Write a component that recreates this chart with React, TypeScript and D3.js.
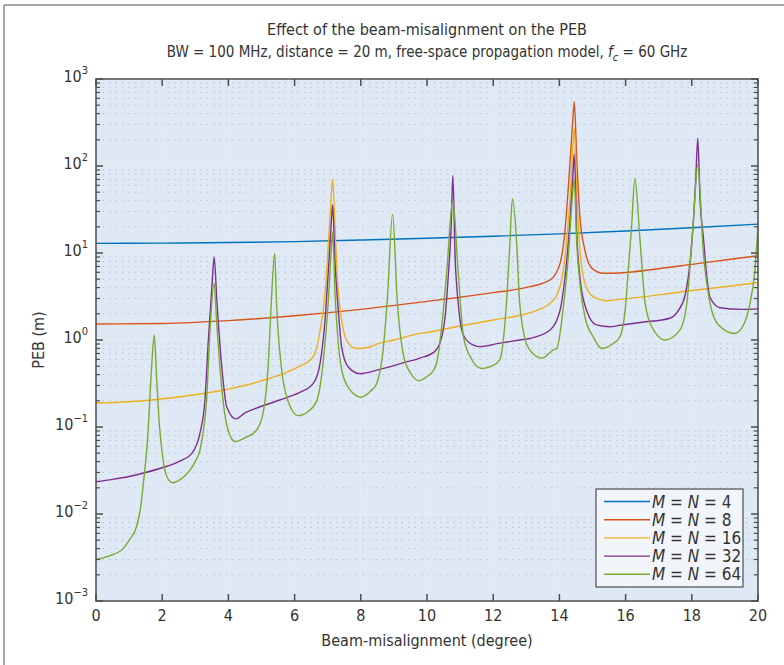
import { scaleLinear, scaleLog, line, curveMonotoneX } from "d3";

// x: beam-misalignment (degree), y: PEB (m)
const peb4: [number, number][] = [
  [0, 12.9], [2, 13.0], [4, 13.2], [6, 13.5], [8, 14.1], [10, 14.8],
  [12, 15.6], [14, 16.6], [16, 17.9], [18, 19.5], [20, 21.5],
];

const peb8: [number, number][] = [
  [0, 1.53], [2, 1.55], [4, 1.67], [6, 1.9], [8, 2.25], [10, 2.78], [11, 3.1],
  [12, 3.5], [13.11, 4.1], [13.72, 4.9], [14.02, 7.6], [14.17, 18.4], [14.3, 84],
  [14.4, 318], [14.45, 548], [14.52, 131], [14.62, 26], [14.77, 10.8], [14.98, 6.7],
  [15.33, 5.84], [15.83, 5.9], [17, 6.6], [18, 7.4], [19, 8.3], [20, 9.3],
];

const peb16: [number, number][] = [
  [0, 0.189], [1, 0.195], [1.96, 0.21], [3, 0.235], [3.95, 0.27], [4.5, 0.3],
  [5, 0.34], [5.5, 0.39], [5.96, 0.46], [6.16, 0.5], [6.47, 0.59], [6.6, 0.68],
  [6.79, 1.42], [6.92, 3.4], [7.02, 12.9], [7.1, 40.6], [7.15, 70], [7.22, 20],
  [7.29, 5.3], [7.42, 1.7], [7.62, 0.92], [7.88, 0.8], [8.2, 0.82], [8.58, 0.92],
  [9, 1.0], [9.79, 1.19], [10, 1.22], [11, 1.45], [12, 1.7], [13.11, 2.06],
  [13.72, 2.64], [14.02, 4.1], [14.22, 14], [14.34, 54], [14.42, 204], [14.45, 271],
  [14.52, 54], [14.62, 10.8], [14.77, 4.5], [15.02, 3.15], [15.43, 2.83], [15.83, 2.93],
  [17, 3.3], [18, 3.7], [19, 4.1], [20, 4.56],
];

const peb32: [number, number][] = [
  [0, 0.0235], [0.5, 0.025], [1, 0.027], [1.5, 0.03], [2, 0.034], [2.5, 0.04],
  [2.9, 0.05], [3.14, 0.085], [3.29, 0.2], [3.4, 1.08], [3.5, 4.0], [3.57, 9.0],
  [3.65, 2.9], [3.8, 0.49], [3.95, 0.17], [4.23, 0.124], [4.5, 0.145], [4.85, 0.165],
  [5.4, 0.195], [5.86, 0.225], [6.16, 0.25], [6.57, 0.32], [6.77, 0.54], [6.92, 1.7],
  [7.02, 6.3], [7.1, 20], [7.15, 36], [7.22, 7.8], [7.32, 2.2], [7.42, 0.84],
  [7.62, 0.49], [7.98, 0.41], [8.58, 0.46], [9.3, 0.55], [9.79, 0.62], [10.2, 0.72],
  [10.4, 0.95], [10.55, 1.9], [10.65, 6], [10.73, 20], [10.78, 78], [10.85, 9],
  [10.95, 2.5], [11.05, 1.3], [11.25, 0.95], [11.6, 0.84], [12.2, 0.92], [12.8, 1.0],
  [13.11, 1.04], [13.72, 1.3], [14.02, 2.2], [14.17, 5.3], [14.3, 18.4], [14.4, 69],
  [14.45, 137], [14.52, 18], [14.62, 5.3], [14.82, 2.2], [15.12, 1.49], [15.53, 1.42],
  [15.83, 1.48], [16.5, 1.6], [17.34, 1.78], [17.6, 2.2], [17.8, 3.3], [17.95, 8],
  [18.05, 24], [18.12, 70], [18.18, 209], [18.25, 40], [18.35, 15], [18.45, 5.5],
  [18.55, 3.1], [18.85, 2.35], [19.5, 2.25], [20, 2.28],
];

const peb64: [number, number][] = [
  [0, 0.003], [0.4, 0.0033], [0.82, 0.004], [1.0, 0.005], [1.22, 0.0071], [1.35, 0.012],
  [1.42, 0.0206], [1.5, 0.04], [1.57, 0.085], [1.68, 0.49], [1.76, 1.14], [1.84, 0.32],
  [1.92, 0.1], [1.99, 0.054], [2.14, 0.027], [2.32, 0.0229], [2.55, 0.025], [2.84, 0.032],
  [3.0, 0.04], [3.14, 0.054], [3.26, 0.1], [3.34, 0.2], [3.44, 1.2], [3.57, 4.5],
  [3.65, 1.5], [3.75, 0.45], [3.88, 0.15], [4.0, 0.09], [4.2, 0.068], [4.5, 0.075],
  [4.85, 0.092], [5.05, 0.145], [5.2, 0.49], [5.3, 2.9], [5.4, 9.9], [5.45, 2.9],
  [5.6, 0.49], [5.8, 0.2], [6.1, 0.135], [6.4, 0.15], [6.67, 0.2], [6.87, 0.59],
  [7.02, 2.9], [7.1, 9.9], [7.15, 17.6], [7.22, 3.4], [7.32, 0.92], [7.47, 0.38],
  [7.77, 0.244], [8.0, 0.22], [8.3, 0.26], [8.47, 0.31], [8.67, 0.74], [8.8, 2.9],
  [8.96, 27.9], [9.1, 2.9], [9.3, 0.64], [9.5, 0.42], [9.75, 0.34], [10.0, 0.38],
  [10.2, 0.45], [10.29, 0.54], [10.45, 1.5], [10.6, 6.3], [10.78, 40.6], [10.94, 6.3],
  [11.1, 1.1], [11.3, 0.65], [11.65, 0.47], [11.95, 0.5], [12.2, 0.59], [12.4, 2.66],
  [12.5, 12], [12.58, 42.5], [12.7, 15], [12.8, 2.66], [13.0, 0.92], [13.2, 0.7],
  [13.47, 0.62], [13.82, 0.77], [13.92, 0.8], [14.12, 2.4], [14.27, 9.1], [14.37, 34],
  [14.45, 70], [14.52, 14], [14.62, 4.5], [14.77, 1.85], [15.02, 1.09], [15.28, 0.8],
  [15.6, 0.9], [15.83, 1.09], [16.0, 2.5], [16.08, 6.3], [16.18, 20], [16.28, 72],
  [16.43, 15], [16.59, 2.66], [16.8, 1.4], [17.19, 1.0], [17.64, 1.3], [17.85, 2.66],
  [18.05, 24], [18.18, 103], [18.35, 10], [18.55, 2.66], [18.8, 1.5], [19.3, 1.19],
  [19.6, 1.6], [19.76, 2.66], [19.9, 6], [20, 20],
];

const xTicks = [0, 2, 4, 6, 8, 10, 12, 14, 16, 18, 20];
const yExponents = [-3, -2, -1, 0, 1, 2, 3];
const arraySizes = ["4", "8", "16", "32", "64"];
const colors = ["#0072BD", "#D95319", "#EDB120", "#7E2F8E", "#77AC30"];
const seriesData = [peb4, peb8, peb16, peb32, peb64];

const W = 784;
const H = 665;
const left = 96;
const right = 758;
const top = 79;
const bottom = 601;
const FONT = "'Liberation Sans Narrow', 'DejaVu Sans Condensed', 'Roboto', sans-serif";
const TEXT = "#333";
const AXIS = "#4d4d4d";

export default function App() {
  const x = scaleLinear().domain([0, 20]).range([left, right]);
  const y = scaleLog().domain([1e-3, 1e3]).range([bottom, top]);
  const path = line<[number, number]>()
    .x((d) => x(d[0]))
    .y((d) => y(d[1]))
    .curve(curveMonotoneX);

  const minors: number[] = [];
  yExponents.slice(0, -1).forEach((e) => {
    for (let k = 2; k <= 9; k++) minors.push(k * Math.pow(10, e));
  });

  return (
    <svg
      width={W}
      height={H}
      style={{ position: "absolute", left: 0, top: 0, background: "#fff" }}
      fontFamily={FONT}
    >
      {/* figure frame */}
      <line x1={4} y1={5} x2={W} y2={5} stroke="#8a8a8a" strokeWidth={1.5} />
      <line x1={4} y1={5} x2={4} y2={H} stroke="#8a8a8a" strokeWidth={1.5} />

      {/* title */}
      <text x={(left + right) / 2} y={35} textAnchor="middle" fontSize={16} fill={TEXT}>
        Effect of the beam-misalignment on the PEB
      </text>
      <text x={(left + right) / 2} y={57} textAnchor="middle" fontSize={15} fill={TEXT}>
        BW = 100 MHz, distance = 20 m, free-space propagation model,{" "}
        <tspan fontStyle="italic">f</tspan>
        <tspan fontStyle="italic" fontSize={11} dy={4}>c</tspan>
        <tspan dy={-4}> = 60 GHz</tspan>
      </text>

      {/* plot background */}
      <rect x={left} y={top} width={right - left} height={bottom - top} fill="#dfe8f5" />

      {/* minor grid */}
      {minors.map((v) => (
        <line
          key={"m" + v}
          x1={left}
          x2={right}
          y1={y(v)}
          y2={y(v)}
          stroke="#bfc3c9"
          strokeWidth={1}
          strokeDasharray="1.5,5"
        />
      ))}
      {/* major grid */}
      {yExponents.map((e) => (
        <line
          key={"g" + e}
          x1={left}
          x2={right}
          y1={y(Math.pow(10, e))}
          y2={y(Math.pow(10, e))}
          stroke="#ebebeb"
          strokeWidth={1}
        />
      ))}
      {xTicks.map((t) => (
        <line key={"gx" + t} x1={x(t)} x2={x(t)} y1={top} y2={bottom} stroke="#ebebeb" strokeWidth={1} />
      ))}

      {/* series */}
      <defs>
        <clipPath id="plot-clip">
          <rect x={left} y={top} width={right - left} height={bottom - top} />
        </clipPath>
      </defs>
      <g clipPath="url(#plot-clip)">
        {seriesData.map((d, i) => (
          <path key={i} d={path(d) ?? ""} fill="none" stroke={colors[i]} strokeWidth={1.4} />
        ))}
      </g>

      {/* axes box and ticks */}
      <rect x={left} y={top} width={right - left} height={bottom - top} fill="none" stroke={AXIS} strokeWidth={1.5} />
      {xTicks.map((t) => (
        <g key={"xt" + t}>
          <line x1={x(t)} x2={x(t)} y1={bottom} y2={bottom - 7} stroke={AXIS} strokeWidth={1.5} />
          <line x1={x(t)} x2={x(t)} y1={top} y2={top + 7} stroke={AXIS} strokeWidth={1.5} />
          <text x={x(t)} y={bottom + 20} textAnchor="middle" fontSize={16} fill={TEXT}>
            {t}
          </text>
        </g>
      ))}
      {yExponents.map((e) => (
        <g key={"yt" + e}>
          <line x1={left} x2={left + 7} y1={y(Math.pow(10, e))} y2={y(Math.pow(10, e))} stroke={AXIS} strokeWidth={1.5} />
          <line x1={right} x2={right - 7} y1={y(Math.pow(10, e))} y2={y(Math.pow(10, e))} stroke={AXIS} strokeWidth={1.5} />
          <text x={left - 8} y={y(Math.pow(10, e)) + 3} textAnchor="end" fontSize={16} fill={TEXT}>
            10
            <tspan fontSize={11} dy={-8}>
              {e < 0 ? "\u2212" + -e : e}
            </tspan>
          </text>
        </g>
      ))}
      {minors.map((v) => (
        <g key={"ym" + v}>
          <line x1={left} x2={left + 4} y1={y(v)} y2={y(v)} stroke={AXIS} strokeWidth={1.2} />
          <line x1={right} x2={right - 4} y1={y(v)} y2={y(v)} stroke={AXIS} strokeWidth={1.2} />
        </g>
      ))}

      {/* axis labels */}
      <text x={(left + right) / 2} y={646} textAnchor="middle" fontSize={16} fill={TEXT}>
        Beam-misalignment (degree)
      </text>
      <text
        transform={`translate(44, ${(top + bottom) / 2}) rotate(-90)`}
        textAnchor="middle"
        fontSize={16}
        fill={TEXT}
      >
        PEB (m)
      </text>

      {/* legend */}
      <g>
        <rect x={596} y={489} width={147} height={98} fill="#f2f5fa" stroke={AXIS} strokeWidth={1.2} />
        {arraySizes.map((s, i) => {
          const ry = 501.5 + i * 18.2;
          return (
            <g key={s}>
              <line x1={604} x2={650} y1={ry} y2={ry} stroke={colors[i]} strokeWidth={1.4} />
              <text x={652} y={ry + 6} fontSize={17} fill={TEXT}>
                <tspan fontStyle="italic">M</tspan> = <tspan fontStyle="italic">N</tspan> = {s}
              </text>
            </g>
          );
        })}
      </g>
    </svg>
  );
}
